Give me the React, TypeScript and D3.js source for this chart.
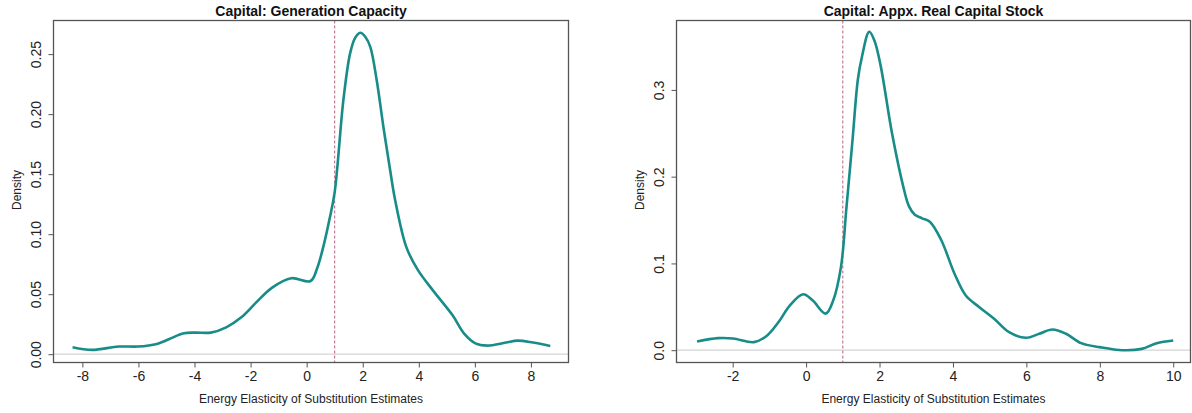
import React, { useRef, useEffect } from "react";
import * as d3 from "d3";

// left panel: generation capacity
const genX = [-8.35, -7.66, -6.7, -6.02, -5.34, -4.92, -4.38, -3.97, -3.42, -2.87, -2.33, -1.78, -1.23, -0.55, 0.14, 0.38, 0.62, 0.82, 1.0, 1.31, 1.55, 1.73, 1.91, 2.09, 2.27, 2.5, 2.74, 2.98, 3.16, 3.56, 3.97, 4.51, 5.2, 5.61, 6.02, 6.43, 7.11, 7.52, 8.07, 8.69];
const genY = [0.0058, 0.0036, 0.0064, 0.0064, 0.0086, 0.0124, 0.0174, 0.018, 0.018, 0.0224, 0.0307, 0.0436, 0.0555, 0.0633, 0.061, 0.072, 0.092, 0.113, 0.135, 0.2117, 0.2506, 0.2635, 0.2678, 0.2645, 0.256, 0.228, 0.189, 0.153, 0.128, 0.089, 0.07, 0.053, 0.0326, 0.0174, 0.0091, 0.0072, 0.0097, 0.0113, 0.0097, 0.0069];
const genXTicks = [-8, -6, -4, -2, 0, 2, 4, 6, 8];
const genYTicks = [0, 0.05, 0.1, 0.15, 0.2, 0.25];

// right panel: real capital stock
const stockX = [-2.97, -2.4, -1.99, -1.42, -1.06, -0.75, -0.44, -0.08, 0.175, 0.535, 0.74, 0.95, 1.1, 1.26, 1.41, 1.52, 1.72, 1.86, 2.03, 2.34, 2.65, 2.8, 2.96, 3.16, 3.37, 3.68, 4.04, 4.35, 4.71, 5.12, 5.53, 5.99, 6.35, 6.71, 7.08, 7.49, 8.0, 8.62, 9.14, 9.55, 10.0];
const stockY = [0.01, 0.0139, 0.0135, 0.0093, 0.017, 0.0324, 0.0517, 0.0645, 0.0575, 0.0421, 0.0575, 0.096, 0.165, 0.24, 0.312, 0.338, 0.367, 0.357, 0.328, 0.25, 0.188, 0.166, 0.156, 0.152, 0.148, 0.127, 0.0884, 0.063, 0.0498, 0.0363, 0.0208, 0.0143, 0.0189, 0.0239, 0.0189, 0.0081, 0.0035, 0.0, 0.0015, 0.0081, 0.0112];
const stockXTicks = [-2, 0, 2, 4, 6, 8, 10];
const stockYTicks = [0, 0.1, 0.2, 0.3];

const refLine = 1;

const panels = [
  {
    title: "Capital: Generation Capacity",
    xs: genX, ys: genY, xTicks: genXTicks, yTicks: genYTicks, yFmt: d3.format(".2f"),
    left: 53.5, right: 568.5, top: 20.5, bottom: 362.5,
    xDomain: [-9.03, 9.34], yDomain: [-0.0069, 0.278],
  },
  {
    title: "Capital: Appx. Real Capital Stock",
    xs: stockX, ys: stockY, xTicks: stockXTicks, yTicks: stockYTicks, yFmt: d3.format(".1f"),
    left: 676.5, right: 1190.5, top: 20.5, bottom: 362.5,
    xDomain: [-3.53, 10.47], yDomain: [-0.0142, 0.38],
  },
];

export default function App() {
  const ref = useRef<SVGSVGElement>(null);

  useEffect(() => {
    document.body.style.margin = "0";
    const svg = d3.select(ref.current);
    svg.selectAll("*").remove();
    const font = "'Liberation Sans', Arial, sans-serif";
    const axisCol = "#555";

    panels.forEach(p => {
      const x = d3.scaleLinear().domain(p.xDomain).range([p.left, p.right]);
      const y = d3.scaleLinear().domain(p.yDomain).range([p.bottom, p.top]);
      const g = svg.append("g");

      // zero line
      g.append("line")
        .attr("x1", p.left).attr("x2", p.right)
        .attr("y1", y(0)).attr("y2", y(0))
        .attr("stroke", "#d4d4d4").attr("stroke-width", 1.2);

      // reference line at 1
      g.append("line")
        .attr("x1", x(refLine)).attr("x2", x(refLine))
        .attr("y1", p.top).attr("y2", p.bottom)
        .attr("stroke", "#b8607f").attr("stroke-width", 1)
        .attr("stroke-dasharray", "3,2");

      const pts = p.xs.map((v, i) => [v, p.ys[i]] as [number, number]);
      g.append("path")
        .datum(pts)
        .attr("fill", "none")
        .attr("stroke", "#178c88")
        .attr("stroke-width", 2.6)
        .attr("stroke-linejoin", "round")
        .attr("d", d3.line<[number, number]>()
          .x(d => x(d[0])).y(d => y(d[1]))
          .curve(d3.curveCatmullRom.alpha(0.5)));

      // box
      g.append("rect")
        .attr("x", p.left).attr("y", p.top)
        .attr("width", p.right - p.left).attr("height", p.bottom - p.top)
        .attr("fill", "none").attr("stroke", axisCol).attr("stroke-width", 1.3);

      // x axis
      const xa = g.append("g")
        .attr("transform", `translate(0,${p.bottom})`)
        .call(d3.axisBottom(x).tickValues(p.xTicks).tickSize(5).tickPadding(4).tickFormat(d => String(d)));
      xa.select(".domain").remove();
      xa.selectAll("line").attr("stroke", axisCol);
      xa.selectAll("text").attr("font-family", font).attr("font-size", "14px").attr("fill", "#222");

      // y axis
      const ya = g.append("g")
        .attr("transform", `translate(${p.left},0)`)
        .call(d3.axisLeft(y).tickValues(p.yTicks).tickSize(5).tickFormat(p.yFmt as any));
      ya.select(".domain").remove();
      ya.selectAll("line").attr("stroke", axisCol);
      ya.selectAll("text")
        .attr("font-family", font).attr("font-size", "14px").attr("fill", "#222")
        .attr("x", null).attr("dy", null)
        .attr("text-anchor", "middle")
        .attr("transform", "translate(-13,0) rotate(-90)");

      // titles
      g.append("text")
        .attr("x", (p.left + p.right) / 2).attr("y", 16)
        .attr("text-anchor", "middle")
        .attr("font-family", font).attr("font-weight", "bold").attr("font-size", "14px")
        .attr("fill", "#111")
        .text(p.title);

      g.append("text")
        .attr("x", (p.left + p.right) / 2).attr("y", 403)
        .attr("text-anchor", "middle")
        .attr("font-family", font).attr("font-size", "12px").attr("fill", "#222")
        .text("Energy Elasticity of Substitution Estimates");

      g.append("text")
        .attr("transform", `translate(${p.left - 33},190) rotate(-90)`)
        .attr("text-anchor", "middle")
        .attr("font-family", font).attr("font-size", "12px").attr("fill", "#222")
        .text("Density");
    });
  }, []);

  return <svg ref={ref} width={1192} height={413} style={{ display: "block" }} />;
}
